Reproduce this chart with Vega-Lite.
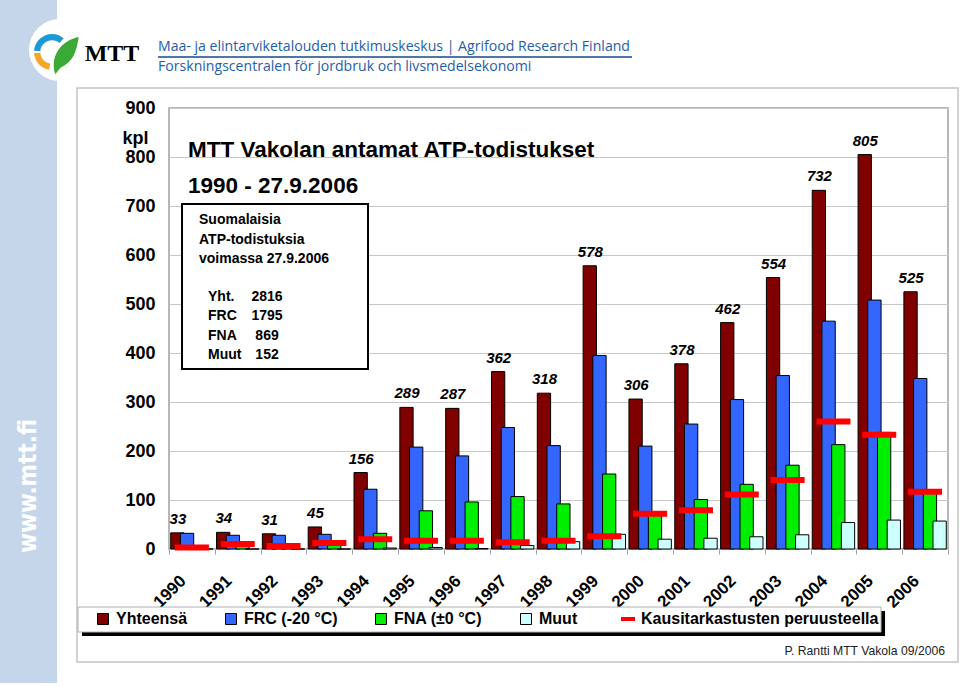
{
  "$schema": "https://vega.github.io/schema/vega-lite/v6.json",
  "autosize": {"type": "none"},
  "width": 779,
  "height": 441,
  "padding": {"left": 169, "top": 108, "right": 12, "bottom": 137},
  "background": "#ffffff",
  "config": {
    "view": {"stroke": "#a0a0a0", "strokeWidth": 1.5},
    "font": "Liberation Sans"
  },
  "resolve": {"scale": {"x": "independent", "y": "independent"}},
  "layer": [
    {
      "layer": [
        {
          "data": {"values": [{"item": "sidebar"}]},
          "mark": {"type": "rect", "fill": "#c6d6ea"},
          "encoding": {
            "x": {"datum": -3.69, "type": "quantitative", "scale": {"domain": [0, 17], "nice": false, "zero": false}, "axis": null},
            "x2": {"datum": -2.444},
            "y": {"datum": 1121, "type": "quantitative", "scale": {"domain": [0, 900], "nice": false, "zero": false}, "axis": null},
            "y2": {"datum": -273.5}
          }
        },
        {
          "data": {"values": [{"item": "sidebar text", "note": "www.mtt.fi"}]},
          "mark": {"type": "text", "angle": 270, "font": "DejaVu Sans Condensed, Liberation Sans", "fontSize": 24, "fontWeight": "bold", "color": "#ffffff", "align": "center", "baseline": "middle"},
          "encoding": {
            "x": {"datum": -3.05, "type": "quantitative"},
            "y": {"datum": 128.6, "type": "quantitative"},
            "text": {"field": "note"}
          }
        },
        {
          "data": {"values": [{"item": "logo background"}]},
          "mark": {"type": "point", "shape": "circle", "size": 3848, "filled": true, "fill": "#ffffff", "opacity": 1, "strokeWidth": 0},
          "encoding": {
            "x": {"datum": -2.379, "type": "quantitative"},
            "y": {"datum": 1018.4, "type": "quantitative"}
          }
        },
        {
          "data": {"values": [{"item": "logo blue"}]},
          "mark": {"type": "point", "shape": "M -0.997 -0.071 A 1 1 0 0 1 0.644 -0.765 L 0.419 -0.497 A 0.65 0.65 0 0 0 -0.648 -0.046 Z", "size": 1296, "filled": true, "fill": "#1c9ad6", "opacity": 1, "strokeWidth": 0},
          "encoding": {
            "x": {"datum": -2.553, "type": "quantitative"},
            "y": {"datum": 1014.3, "type": "quantitative"}
          }
        },
        {
          "data": {"values": [{"item": "logo orange"}]},
          "mark": {"type": "point", "shape": "M -0.158 0.987 A 1 1 0 0 1 -0.998 0.062 L -0.649 0.040 A 0.65 0.65 0 0 0 -0.103 0.642 Z", "size": 1296, "filled": true, "fill": "#f5a623", "opacity": 1, "strokeWidth": 0},
          "encoding": {
            "x": {"datum": -2.553, "type": "quantitative"},
            "y": {"datum": 1014.3, "type": "quantitative"}
          }
        },
        {
          "data": {"values": [{"item": "logo leaf"}]},
          "mark": {"type": "point", "shape": "M -0.59 1.06 C -0.9 0.1 -0.3 -0.8 0.71 -1.0 C 0.6 -0.2 0.4 0.4 -0.3 0.7 Z", "size": 1296, "filled": true, "fill": "#3aa935", "opacity": 1, "strokeWidth": 0},
          "encoding": {
            "x": {"datum": -2.25, "type": "quantitative"},
            "y": {"datum": 1008, "type": "quantitative"}
          }
        },
        {
          "data": {"values": [{"note": "MTT"}]},
          "mark": {"type": "text", "font": "Liberation Serif", "fontSize": 24, "fontWeight": "bold", "color": "#000000", "align": "left", "baseline": "middle"},
          "encoding": {
            "x": {"datum": -1.84, "type": "quantitative"},
            "y": {"datum": 1010, "type": "quantitative"},
            "text": {"field": "note"}
          }
        },
        {
          "data": {"values": [{"note": "Maa- ja elintarviketalouden tutkimuskeskus | Agrifood Research Finland"}]},
          "mark": {"type": "text", "font": "Open Sans", "fontSize": 14.1, "color": "#1f5ea8", "align": "left", "baseline": "middle"},
          "encoding": {
            "x": {"datum": -0.24, "type": "quantitative"},
            "y": {"datum": 1024.5, "type": "quantitative"},
            "text": {"field": "note"}
          }
        },
        {
          "data": {"values": [{"item": "header underline"}]},
          "mark": {"type": "rule", "color": "#4f76a6", "strokeWidth": 2},
          "encoding": {
            "x": {"datum": -0.24, "type": "quantitative"},
            "x2": {"datum": 10.104},
            "y": {"datum": 1004.1, "type": "quantitative"}
          }
        },
        {
          "data": {"values": [{"note": "Forskningscentralen för jordbruk och livsmedelsekonomi"}]},
          "mark": {"type": "text", "font": "Open Sans", "fontSize": 14.1, "color": "#1f5ea8", "align": "left", "baseline": "middle"},
          "encoding": {
            "x": {"datum": -0.24, "type": "quantitative"},
            "y": {"datum": 983.7, "type": "quantitative"},
            "text": {"field": "note"}
          }
        },
        {
          "data": {"values": [{"item": "frame"}]},
          "mark": {"type": "rect", "fillOpacity": 0, "stroke": "#c4c4c4", "strokeWidth": 1.5},
          "encoding": {
            "x": {"datum": -2.008, "type": "quantitative"},
            "x2": {"datum": 17.218},
            "y": {"datum": 940.8, "type": "quantitative"},
            "y2": {"datum": -230.6}
          }
        },
        {
          "data": {"values": [{"item": "legend shadow"}]},
          "mark": {"type": "rect", "fill": "#000000"},
          "encoding": {
            "x": {"datum": -1.899, "type": "quantitative"},
            "x2": {"datum": 15.626},
            "y": {"datum": -126.5, "type": "quantitative"},
            "y2": {"datum": -177.6}
          }
        },
        {
          "data": {"values": [{"item": "legend box"}]},
          "mark": {"type": "rect", "fill": "#ffffff", "stroke": "#b0b0b0", "strokeWidth": 1},
          "encoding": {
            "x": {"datum": -1.986, "type": "quantitative"},
            "x2": {"datum": 15.538},
            "y": {"datum": -118.4, "type": "quantitative"},
            "y2": {"datum": -169.4}
          }
        },
        {
          "data": {"values": [{"note": "P. Rantti  MTT Vakola  09/2006"}]},
          "mark": {"type": "text", "font": "Liberation Sans Narrow, Liberation Sans", "fontSize": 12.2, "color": "#222222", "align": "right", "baseline": "middle"},
          "encoding": {
            "x": {"datum": 16.935, "type": "quantitative"},
            "y": {"datum": -208.2, "type": "quantitative"},
            "text": {"field": "note"}
          }
        }
      ]
    },
    {
      "data": {
        "values": [
          {"year": "1990", "series": "Yhteensä", "value": 33},
          {"year": "1990", "series": "FRC (-20 °C)", "value": 32},
          {"year": "1990", "series": "FNA (±0 °C)", "value": 1},
          {"year": "1990", "series": "Muut", "value": 0},
          {"year": "1990", "series": "Kausitarkastusten peruusteella", "value": 3},
          {"year": "1991", "series": "Yhteensä", "value": 34},
          {"year": "1991", "series": "FRC (-20 °C)", "value": 28},
          {"year": "1991", "series": "FNA (±0 °C)", "value": 6},
          {"year": "1991", "series": "Muut", "value": 0},
          {"year": "1991", "series": "Kausitarkastusten peruusteella", "value": 10},
          {"year": "1992", "series": "Yhteensä", "value": 31},
          {"year": "1992", "series": "FRC (-20 °C)", "value": 28},
          {"year": "1992", "series": "FNA (±0 °C)", "value": 3},
          {"year": "1992", "series": "Muut", "value": 0},
          {"year": "1992", "series": "Kausitarkastusten peruusteella", "value": 6},
          {"year": "1993", "series": "Yhteensä", "value": 45},
          {"year": "1993", "series": "FRC (-20 °C)", "value": 30},
          {"year": "1993", "series": "FNA (±0 °C)", "value": 15},
          {"year": "1993", "series": "Muut", "value": 0},
          {"year": "1993", "series": "Kausitarkastusten peruusteella", "value": 12},
          {"year": "1994", "series": "Yhteensä", "value": 156},
          {"year": "1994", "series": "FRC (-20 °C)", "value": 122},
          {"year": "1994", "series": "FNA (±0 °C)", "value": 32},
          {"year": "1994", "series": "Muut", "value": 2},
          {"year": "1994", "series": "Kausitarkastusten peruusteella", "value": 20},
          {"year": "1995", "series": "Yhteensä", "value": 289},
          {"year": "1995", "series": "FRC (-20 °C)", "value": 208},
          {"year": "1995", "series": "FNA (±0 °C)", "value": 78},
          {"year": "1995", "series": "Muut", "value": 3},
          {"year": "1995", "series": "Kausitarkastusten peruusteella", "value": 17},
          {"year": "1996", "series": "Yhteensä", "value": 287},
          {"year": "1996", "series": "FRC (-20 °C)", "value": 190},
          {"year": "1996", "series": "FNA (±0 °C)", "value": 96},
          {"year": "1996", "series": "Muut", "value": 1},
          {"year": "1996", "series": "Kausitarkastusten peruusteella", "value": 17},
          {"year": "1997", "series": "Yhteensä", "value": 362},
          {"year": "1997", "series": "FRC (-20 °C)", "value": 248},
          {"year": "1997", "series": "FNA (±0 °C)", "value": 107},
          {"year": "1997", "series": "Muut", "value": 7},
          {"year": "1997", "series": "Kausitarkastusten peruusteella", "value": 14},
          {"year": "1998", "series": "Yhteensä", "value": 318},
          {"year": "1998", "series": "FRC (-20 °C)", "value": 211},
          {"year": "1998", "series": "FNA (±0 °C)", "value": 92},
          {"year": "1998", "series": "Muut", "value": 15},
          {"year": "1998", "series": "Kausitarkastusten peruusteella", "value": 17},
          {"year": "1999", "series": "Yhteensä", "value": 578},
          {"year": "1999", "series": "FRC (-20 °C)", "value": 395},
          {"year": "1999", "series": "FNA (±0 °C)", "value": 153},
          {"year": "1999", "series": "Muut", "value": 30},
          {"year": "1999", "series": "Kausitarkastusten peruusteella", "value": 26},
          {"year": "2000", "series": "Yhteensä", "value": 306},
          {"year": "2000", "series": "FRC (-20 °C)", "value": 210},
          {"year": "2000", "series": "FNA (±0 °C)", "value": 76},
          {"year": "2000", "series": "Muut", "value": 20},
          {"year": "2000", "series": "Kausitarkastusten peruusteella", "value": 72},
          {"year": "2001", "series": "Yhteensä", "value": 378},
          {"year": "2001", "series": "FRC (-20 °C)", "value": 255},
          {"year": "2001", "series": "FNA (±0 °C)", "value": 101},
          {"year": "2001", "series": "Muut", "value": 22},
          {"year": "2001", "series": "Kausitarkastusten peruusteella", "value": 79},
          {"year": "2002", "series": "Yhteensä", "value": 462},
          {"year": "2002", "series": "FRC (-20 °C)", "value": 305},
          {"year": "2002", "series": "FNA (±0 °C)", "value": 132},
          {"year": "2002", "series": "Muut", "value": 25},
          {"year": "2002", "series": "Kausitarkastusten peruusteella", "value": 111},
          {"year": "2003", "series": "Yhteensä", "value": 554},
          {"year": "2003", "series": "FRC (-20 °C)", "value": 354},
          {"year": "2003", "series": "FNA (±0 °C)", "value": 171},
          {"year": "2003", "series": "Muut", "value": 29},
          {"year": "2003", "series": "Kausitarkastusten peruusteella", "value": 141},
          {"year": "2004", "series": "Yhteensä", "value": 732},
          {"year": "2004", "series": "FRC (-20 °C)", "value": 465},
          {"year": "2004", "series": "FNA (±0 °C)", "value": 213},
          {"year": "2004", "series": "Muut", "value": 54},
          {"year": "2004", "series": "Kausitarkastusten peruusteella", "value": 260},
          {"year": "2005", "series": "Yhteensä", "value": 805},
          {"year": "2005", "series": "FRC (-20 °C)", "value": 508},
          {"year": "2005", "series": "FNA (±0 °C)", "value": 238},
          {"year": "2005", "series": "Muut", "value": 59},
          {"year": "2005", "series": "Kausitarkastusten peruusteella", "value": 233},
          {"year": "2006", "series": "Yhteensä", "value": 525},
          {"year": "2006", "series": "FRC (-20 °C)", "value": 348},
          {"year": "2006", "series": "FNA (±0 °C)", "value": 120},
          {"year": "2006", "series": "Muut", "value": 57},
          {"year": "2006", "series": "Kausitarkastusten peruusteella", "value": 117}
        ]
      },
      "layer": [
        {
          "transform": [{"filter": "datum.series !== 'Kausitarkastusten peruusteella'"}],
          "mark": {"type": "bar", "stroke": "#000000", "strokeWidth": 1, "width": {"band": 1.37}},
          "encoding": {
            "x": {
              "field": "year", "type": "nominal",
              "scale": {"paddingInner": 0, "paddingOuter": 0},
              "axis": {"orient": "bottom", "title": null, "labelAngle": -45, "labelAlign": "right", "labelBaseline": "middle", "labelFontSize": 17, "labelFontWeight": "bold", "labelColor": "#000000", "labelPadding": 24, "labelOffset": -9, "domain": false, "ticks": true, "tickBand": "extent", "tickSize": 5, "tickColor": "#a0a0a0", "grid": false}
            },
            "xOffset": {
              "field": "series", "type": "nominal",
              "scale": {"domain": ["Yhteensä", "FRC (-20 °C)", "FNA (±0 °C)", "Muut"], "paddingInner": 0, "paddingOuter": 0.36, "range": [6.7, 52.5]}
            },
            "y": {
              "field": "value", "type": "quantitative",
              "scale": {"domain": [0, 900], "nice": false},
              "axis": {"orient": "left", "values": [0, 100, 200, 300, 400, 500, 600, 700, 800, 900], "title": "kpl", "titleAngle": 0, "titleX": -34, "titleY": 30, "titleAlign": "center", "titleBaseline": "middle", "titleFontSize": 18, "titleFontWeight": "bold", "titleColor": "#000000", "labelFontSize": 18, "labelFontWeight": "bold", "labelColor": "#000000", "ticks": false, "tickSize": 0, "labelPadding": 14, "domain": false, "grid": true, "gridColor": "#c8c8c8", "gridWidth": 1}
            },
            "color": {
              "field": "series", "type": "nominal",
              "scale": {
                "domain": ["Yhteensä", "FRC (-20 °C)", "FNA (±0 °C)", "Muut", "Kausitarkastusten peruusteella"],
                "range": ["#800000", "#3366ff", "#00ee00", "#ccffff", "#ff0000"]
              },
              "legend": {
                "orient": "none", "legendX": -74, "legendY": 503, "direction": "horizontal", "title": null, "padding": 0,
                "symbolType": "square", "symbolSize": 121, "symbolStrokeWidth": 1, "symbolStrokeColor": "#000000",
                "labelFontSize": 16, "labelFontWeight": "bold", "labelColor": "#000000", "labelOffset": 5, "columnPadding": 35, "labelLimit": 400,
                "encode": {
                  "symbols": {
                    "update": {
                      "shape": {"signal": "datum.value === 'Kausitarkastusten peruusteella' ? 'stroke' : 'square'"},
                      "size": {"signal": "datum.value === 'Kausitarkastusten peruusteella' ? 196 : 121"},
                      "stroke": {"signal": "datum.value === 'Kausitarkastusten peruusteella' ? '#ff0000' : '#000000'"},
                      "strokeWidth": {"signal": "datum.value === 'Kausitarkastusten peruusteella' ? 4 : 1"},
                      "fill": {"scale": "color", "field": "value"},
                      "opacity": {"value": 1}
                    }
                  }
                }
              }
            }
          }
        },
        {
          "transform": [{"filter": "datum.series === 'Kausitarkastusten peruusteella'"}],
          "mark": {"type": "tick", "thickness": 6, "size": 34, "opacity": 1},
          "encoding": {
            "x": {"field": "year", "type": "nominal"},
            "y": {"field": "value", "type": "quantitative"},
            "color": {"field": "series", "type": "nominal"}
          }
        },
        {
          "transform": [{"filter": "datum.series === 'Yhteensä'"}],
          "mark": {"type": "text", "fontSize": 15, "fontWeight": "bold", "fontStyle": "italic", "baseline": "bottom", "dy": -6, "dx": -14, "color": "#000000"},
          "encoding": {
            "x": {"field": "year", "type": "nominal"},
            "y": {"field": "value", "type": "quantitative"},
            "text": {"field": "value", "type": "quantitative"}
          }
        }
      ]
    },
    {
      "layer": [
        {
          "data": {"values": [{"note": "MTT Vakolan antamat ATP-todistukset"}]},
          "mark": {"type": "text", "fontSize": 22.5, "fontWeight": "bold", "color": "#000000", "align": "left", "baseline": "middle"},
          "encoding": {
            "x": {"datum": 0.415, "type": "quantitative", "scale": {"domain": [0, 17], "nice": false, "zero": false}, "axis": null},
            "y": {"datum": 814.3, "type": "quantitative", "scale": {"domain": [0, 900], "nice": false, "zero": false}, "axis": null},
            "text": {"field": "note"}
          }
        },
        {
          "data": {"values": [{"note": "1990 - 27.9.2006"}]},
          "mark": {"type": "text", "fontSize": 22.5, "fontWeight": "bold", "color": "#000000", "align": "left", "baseline": "middle"},
          "encoding": {
            "x": {"datum": 0.415, "type": "quantitative"},
            "y": {"datum": 740.8, "type": "quantitative"},
            "text": {"field": "note"}
          }
        },
        {
          "data": {"values": [{"item": "inset box"}]},
          "mark": {"type": "rect", "fill": "#ffffff", "stroke": "#000000", "strokeWidth": 2},
          "encoding": {
            "x": {"datum": 0.284, "type": "quantitative"},
            "x2": {"datum": 4.343},
            "y": {"datum": 704.1, "type": "quantitative"},
            "y2": {"datum": 367.3}
          }
        },
        {
          "data": {"values": [{"note": "Suomalaisia\nATP-todistuksia\nvoimassa 27.9.2006"}]},
          "mark": {"type": "text", "fontSize": 14, "fontWeight": "bold", "color": "#000000", "align": "left", "baseline": "middle", "lineBreak": "\n", "lineHeight": 19.5},
          "encoding": {
            "x": {"datum": 0.655, "type": "quantitative"},
            "y": {"datum": 671.4, "type": "quantitative"},
            "text": {"field": "note"}
          }
        },
        {
          "data": {"values": [{"note": "Yht.\nFRC\nFNA\nMuut"}]},
          "mark": {"type": "text", "fontSize": 14, "fontWeight": "bold", "color": "#000000", "align": "left", "baseline": "middle", "lineBreak": "\n", "lineHeight": 19.4},
          "encoding": {
            "x": {"datum": 0.851, "type": "quantitative"},
            "y": {"datum": 514.3, "type": "quantitative"},
            "text": {"field": "note"}
          }
        },
        {
          "data": {"values": [{"note": "2816\n1795\n869\n152"}]},
          "mark": {"type": "text", "fontSize": 14, "fontWeight": "bold", "color": "#000000", "align": "center", "baseline": "middle", "lineBreak": "\n", "lineHeight": 19.4},
          "encoding": {
            "x": {"datum": 2.139, "type": "quantitative"},
            "y": {"datum": 514.3, "type": "quantitative"},
            "text": {"field": "note"}
          }
        }
      ]
    }
  ]
}
